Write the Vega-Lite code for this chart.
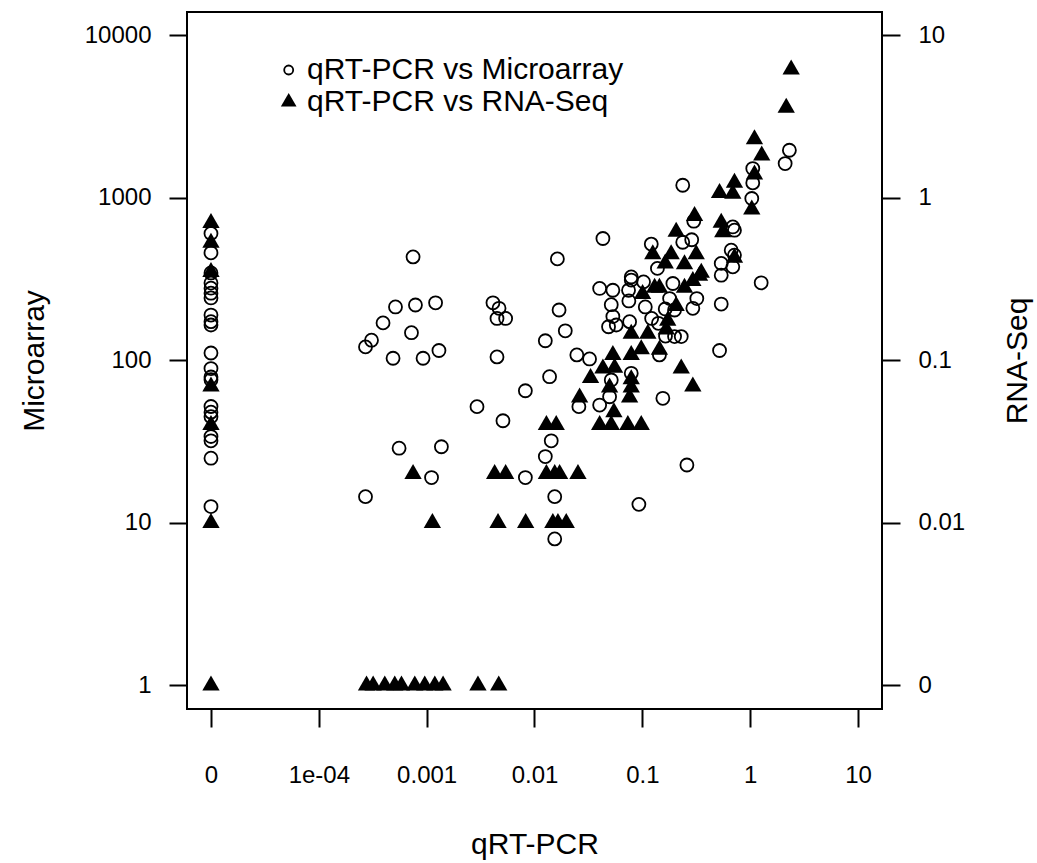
{
  "$schema": "https://vega.github.io/schema/vega-lite/v6.json",
  "width": 695,
  "height": 697,
  "autosize": {"type": "none"},
  "padding": {"left": 187, "top": 12, "right": 155, "bottom": 154},
  "background": "white",
  "config": {
    "font": "Liberation Sans",
    "view": {"stroke": "black", "strokeWidth": 2},
    "axis": {
      "grid": false, "domain": false, "tickColor": "black", "tickWidth": 2, "tickSize": 18,
      "labelColor": "black", "labelFont": "Liberation Sans", "labelFontSize": 24,
      "titleFont": "Liberation Sans", "titleFontSize": 30, "titleFontWeight": "normal", "titleColor": "black",
      "labelFlush": false, "labelOverlap": false, "titleBaseline": "alphabetic", "titleAlign": "center"
    },
    "legend": {
      "orient": "none", "legendX": 86.7, "legendY": 43, "padding": 0,
      "labelFont": "Liberation Sans", "labelFontSize": 30, "labelColor": "black", "labelOffset": 3.3, "labelLimit": 1000,
      "rowPadding": 2, "symbolOpacity": 1
    }
  },
  "datasets": {
    "micro": [
      {"qpcr": 0.00001, "microarray": 604}, {"qpcr": 0.00001, "microarray": 459}, {"qpcr": 0.00001, "microarray": 345},
      {"qpcr": 0.00001, "microarray": 299}, {"qpcr": 0.00001, "microarray": 278}, {"qpcr": 0.00001, "microarray": 259},
      {"qpcr": 0.00001, "microarray": 242}, {"qpcr": 0.00001, "microarray": 190}, {"qpcr": 0.00001, "microarray": 173},
      {"qpcr": 0.00001, "microarray": 165}, {"qpcr": 0.00001, "microarray": 111}, {"qpcr": 0.00001, "microarray": 89},
      {"qpcr": 0.00001, "microarray": 79}, {"qpcr": 0.00001, "microarray": 76}, {"qpcr": 0.00001, "microarray": 52},
      {"qpcr": 0.00001, "microarray": 48}, {"qpcr": 0.00001, "microarray": 45}, {"qpcr": 0.00001, "microarray": 34},
      {"qpcr": 0.00001, "microarray": 32}, {"qpcr": 0.00001, "microarray": 25}, {"qpcr": 0.00001, "microarray": 12.6},
      {"qpcr": 0.000748, "microarray": 433}, {"qpcr": 0.000514, "microarray": 213}, {"qpcr": 0.000787, "microarray": 219},
      {"qpcr": 0.00121, "microarray": 226}, {"qpcr": 0.000394, "microarray": 170}, {"qpcr": 0.000723, "microarray": 148},
      {"qpcr": 0.000308, "microarray": 133}, {"qpcr": 0.000271, "microarray": 121}, {"qpcr": 0.000488, "microarray": 103},
      {"qpcr": 0.000926, "microarray": 103}, {"qpcr": 0.0013, "microarray": 115}, {"qpcr": 0.000555, "microarray": 28.8},
      {"qpcr": 0.00137, "microarray": 29.4}, {"qpcr": 0.00111, "microarray": 19.0}, {"qpcr": 0.000271, "microarray": 14.5},
      {"qpcr": 0.00412, "microarray": 226}, {"qpcr": 0.00469, "microarray": 209}, {"qpcr": 0.00449, "microarray": 181},
      {"qpcr": 0.0054, "microarray": 181}, {"qpcr": 0.00449, "microarray": 105}, {"qpcr": 0.0163, "microarray": 421},
      {"qpcr": 0.0431, "microarray": 562}, {"qpcr": 0.0169, "microarray": 204}, {"qpcr": 0.0193, "microarray": 152},
      {"qpcr": 0.0126, "microarray": 132}, {"qpcr": 0.0402, "microarray": 277}, {"qpcr": 0.0533, "microarray": 270},
      {"qpcr": 0.0789, "microarray": 326}, {"qpcr": 0.0789, "microarray": 312}, {"qpcr": 0.1026, "microarray": 304},
      {"qpcr": 0.0745, "microarray": 270}, {"qpcr": 0.0515, "microarray": 220}, {"qpcr": 0.075, "microarray": 232},
      {"qpcr": 0.1065, "microarray": 213}, {"qpcr": 0.163, "microarray": 207}, {"qpcr": 0.0533, "microarray": 186},
      {"qpcr": 0.0486, "microarray": 161}, {"qpcr": 0.0573, "microarray": 165}, {"qpcr": 0.0762, "microarray": 173},
      {"qpcr": 0.122, "microarray": 181}, {"qpcr": 0.141, "microarray": 169}, {"qpcr": 0.164, "microarray": 141},
      {"qpcr": 0.144, "microarray": 108}, {"qpcr": 0.0247, "microarray": 108}, {"qpcr": 0.0324, "microarray": 102},
      {"qpcr": 0.0789, "microarray": 83.2}, {"qpcr": 0.0515, "microarray": 75.7}, {"qpcr": 0.0138, "microarray": 79.3},
      {"qpcr": 0.00823, "microarray": 65}, {"qpcr": 0.0497, "microarray": 59.7}, {"qpcr": 0.0258, "microarray": 51.9},
      {"qpcr": 0.0402, "microarray": 53.1}, {"qpcr": 0.155, "microarray": 58.4}, {"qpcr": 0.00293, "microarray": 51.9},
      {"qpcr": 0.0051, "microarray": 42.5}, {"qpcr": 0.0143, "microarray": 32}, {"qpcr": 0.0126, "microarray": 25.6},
      {"qpcr": 0.00823, "microarray": 19}, {"qpcr": 0.0154, "microarray": 14.5}, {"qpcr": 0.0929, "microarray": 13},
      {"qpcr": 0.0154, "microarray": 7.97}, {"qpcr": 0.121, "microarray": 519}, {"qpcr": 0.138, "microarray": 368},
      {"qpcr": 0.237, "microarray": 1195}, {"qpcr": 0.3, "microarray": 718}, {"qpcr": 0.237, "microarray": 533},
      {"qpcr": 0.287, "microarray": 552}, {"qpcr": 0.69, "microarray": 662}, {"qpcr": 0.715, "microarray": 632},
      {"qpcr": 1.057, "microarray": 1514}, {"qpcr": 1.057, "microarray": 1235}, {"qpcr": 1.035, "microarray": 990},
      {"qpcr": 2.31, "microarray": 1962}, {"qpcr": 2.11, "microarray": 1625}, {"qpcr": 0.667, "microarray": 476},
      {"qpcr": 0.715, "microarray": 444}, {"qpcr": 0.69, "microarray": 376}, {"qpcr": 0.539, "microarray": 395},
      {"qpcr": 0.539, "microarray": 334}, {"qpcr": 1.265, "microarray": 300}, {"qpcr": 0.192, "microarray": 297},
      {"qpcr": 0.179, "microarray": 240}, {"qpcr": 0.32, "microarray": 240}, {"qpcr": 0.539, "microarray": 222},
      {"qpcr": 0.199, "microarray": 204}, {"qpcr": 0.294, "microarray": 209}, {"qpcr": 0.199, "microarray": 140},
      {"qpcr": 0.2295, "microarray": 140}, {"qpcr": 0.52, "microarray": 115}, {"qpcr": 0.259, "microarray": 22.7}
    ],
    "rna": [
      {"qpcr": 0.00001, "rnaseq": 0.70}, {"qpcr": 0.00001, "rnaseq": 0.53}, {"qpcr": 0.00001, "rnaseq": 0.35},
      {"qpcr": 0.00001, "rnaseq": 0.069}, {"qpcr": 0.00001, "rnaseq": 0.04}, {"qpcr": 0.00001, "rnaseq": 0.01},
      {"qpcr": 0.00001, "rnaseq": 0.001},
      {"qpcr": 0.000277, "rnaseq": 0.001}, {"qpcr": 0.000319, "rnaseq": 0.001}, {"qpcr": 0.000409, "rnaseq": 0.001},
      {"qpcr": 0.000506, "rnaseq": 0.001}, {"qpcr": 0.000584, "rnaseq": 0.001}, {"qpcr": 0.000776, "rnaseq": 0.001},
      {"qpcr": 0.00096, "rnaseq": 0.001}, {"qpcr": 0.00119, "rnaseq": 0.001}, {"qpcr": 0.00142, "rnaseq": 0.001},
      {"qpcr": 0.00299, "rnaseq": 0.001}, {"qpcr": 0.00466, "rnaseq": 0.001},
      {"qpcr": 0.000748, "rnaseq": 0.02}, {"qpcr": 0.00427, "rnaseq": 0.02}, {"qpcr": 0.0054, "rnaseq": 0.02},
      {"qpcr": 0.0129, "rnaseq": 0.02}, {"qpcr": 0.0154, "rnaseq": 0.02}, {"qpcr": 0.0171, "rnaseq": 0.02},
      {"qpcr": 0.0253, "rnaseq": 0.02},
      {"qpcr": 0.00113, "rnaseq": 0.01}, {"qpcr": 0.00459, "rnaseq": 0.01}, {"qpcr": 0.00828, "rnaseq": 0.01},
      {"qpcr": 0.0148, "rnaseq": 0.01}, {"qpcr": 0.0165, "rnaseq": 0.01}, {"qpcr": 0.0197, "rnaseq": 0.01},
      {"qpcr": 0.0129, "rnaseq": 0.04}, {"qpcr": 0.0159, "rnaseq": 0.04}, {"qpcr": 0.0402, "rnaseq": 0.04},
      {"qpcr": 0.0515, "rnaseq": 0.04}, {"qpcr": 0.0734, "rnaseq": 0.04}, {"qpcr": 0.0977, "rnaseq": 0.04},
      {"qpcr": 0.0545, "rnaseq": 0.048}, {"qpcr": 0.0262, "rnaseq": 0.059}, {"qpcr": 0.0762, "rnaseq": 0.059},
      {"qpcr": 0.0497, "rnaseq": 0.068}, {"qpcr": 0.0789, "rnaseq": 0.068}, {"qpcr": 0.0789, "rnaseq": 0.0765},
      {"qpcr": 0.0331, "rnaseq": 0.078}, {"qpcr": 0.0431, "rnaseq": 0.089}, {"qpcr": 0.0553, "rnaseq": 0.09},
      {"qpcr": 0.0533, "rnaseq": 0.108}, {"qpcr": 0.0789, "rnaseq": 0.108}, {"qpcr": 0.0977, "rnaseq": 0.117},
      {"qpcr": 0.144, "rnaseq": 0.116}, {"qpcr": 0.0789, "rnaseq": 0.146}, {"qpcr": 0.1125, "rnaseq": 0.146},
      {"qpcr": 0.172, "rnaseq": 0.175}, {"qpcr": 0.1666, "rnaseq": 0.155}, {"qpcr": 0.206, "rnaseq": 0.216},
      {"qpcr": 0.1005, "rnaseq": 0.256}, {"qpcr": 0.13, "rnaseq": 0.28}, {"qpcr": 0.144, "rnaseq": 0.28},
      {"qpcr": 0.246, "rnaseq": 0.28}, {"qpcr": 0.294, "rnaseq": 0.308}, {"qpcr": 0.339, "rnaseq": 0.331},
      {"qpcr": 0.352, "rnaseq": 0.346}, {"qpcr": 0.163, "rnaseq": 0.394}, {"qpcr": 0.246, "rnaseq": 0.39},
      {"qpcr": 0.125, "rnaseq": 0.449}, {"qpcr": 0.185, "rnaseq": 0.449}, {"qpcr": 0.316, "rnaseq": 0.449},
      {"qpcr": 0.715, "rnaseq": 0.428}, {"qpcr": 0.206, "rnaseq": 0.619}, {"qpcr": 0.305, "rnaseq": 0.773},
      {"qpcr": 0.539, "rnaseq": 0.703}, {"qpcr": 0.557, "rnaseq": 0.615}, {"qpcr": 0.52, "rnaseq": 1.07},
      {"qpcr": 0.69, "rnaseq": 1.06}, {"qpcr": 0.715, "rnaseq": 1.24}, {"qpcr": 1.035, "rnaseq": 0.848},
      {"qpcr": 1.096, "rnaseq": 1.39}, {"qpcr": 1.096, "rnaseq": 2.29}, {"qpcr": 1.28, "rnaseq": 1.82},
      {"qpcr": 2.16, "rnaseq": 3.58}, {"qpcr": 2.4, "rnaseq": 6.16}, {"qpcr": 0.2295, "rnaseq": 0.089},
      {"qpcr": 0.294, "rnaseq": 0.069}
    ]
  },
  "encoding": {
    "x": {
      "field": "qpcr", "type": "quantitative",
      "scale": {"type": "log", "domain": [0.000005993, 16.69], "nice": false},
      "axis": {
        "values": [0.00001, 0.0001, 0.001, 0.01, 0.1, 1, 10],
        "labelExpr": "datum.value < 0.00005 ? '0' : datum.value < 0.0005 ? '1e-04' : datum.value < 0.005 ? '0.001' : datum.value < 0.05 ? '0.01' : datum.value < 0.5 ? '0.1' : datum.value < 5 ? '1' : '10'",
        "labelPadding": 55, "labelBaseline": "alphabetic", "labelAlign": "center",
        "title": "qRT-PCR", "titleX": 347.5, "titleY": 144
      }
    }
  },
  "layer": [
    {
      "data": {"name": "micro"},
      "mark": {"type": "point", "shape": "circle", "filled": false, "stroke": "black", "strokeWidth": 1.8, "size": 169, "opacity": 1},
      "encoding": {
        "y": {
          "field": "microarray", "type": "quantitative",
          "scale": {"type": "log", "domain": [0.716, 13906], "nice": false},
          "axis": {
            "orient": "left", "values": [1, 10, 100, 1000, 10000],
            "labelExpr": "datum.value >= 5000 ? '10000' : datum.value >= 500 ? '1000' : datum.value >= 50 ? '100' : datum.value >= 5 ? '10' : '1'",
            "labelPadding": 18, "labelBaseline": "middle",
            "title": "Microarray", "titleAngle": -90, "titleX": -144, "titleY": 348.5
          }
        }
      }
    },
    {
      "data": {"name": "rna"},
      "mark": {"type": "point", "shape": "M0,-1L0.866,0.5L-0.866,0.5Z", "filled": true, "fill": "black", "strokeWidth": 0, "size": 400, "opacity": 1},
      "encoding": {
        "y": {
          "field": "rnaseq", "type": "quantitative",
          "scale": {"type": "log", "domain": [0.000716, 13.906], "nice": false},
          "axis": {
            "orient": "right", "values": [0.001, 0.01, 0.1, 1, 10],
            "labelExpr": "datum.value >= 5 ? '10' : datum.value >= 0.5 ? '1' : datum.value >= 0.05 ? '0.1' : datum.value >= 0.005 ? '0.01' : '0'",
            "labelPadding": 18, "labelBaseline": "middle",
            "title": "RNA-Seq", "titleAngle": -90, "titleX": 144, "titleY": 348.5
          }
        }
      }
    },
    {
      "data": {"values": []},
      "mark": {"type": "point", "filled": true, "opacity": 1},
      "encoding": {
        "fill": {
          "field": "series", "type": "nominal",
          "scale": {"domain": ["qRT-PCR vs Microarray", "qRT-PCR vs RNA-Seq"], "range": ["transparent", "black"]},
          "legend": {"title": null, "encode": {"labels": {"dy": {"value": 5}}}}
        },
        "shape": {
          "field": "series", "type": "nominal",
          "scale": {"domain": ["qRT-PCR vs Microarray", "qRT-PCR vs RNA-Seq"], "range": ["circle", "M0,-1L0.866,0.5L-0.866,0.5Z"]},
          "legend": {"title": null, "encode": {"labels": {"dy": {"value": 5}}}}
        },
        "stroke": {
          "field": "series", "type": "nominal",
          "scale": {"domain": ["qRT-PCR vs Microarray", "qRT-PCR vs RNA-Seq"], "range": ["black", "black"]},
          "legend": {"title": null, "encode": {"labels": {"dy": {"value": 5}}}}
        },
        "strokeWidth": {
          "field": "series", "type": "nominal",
          "scale": {"domain": ["qRT-PCR vs Microarray", "qRT-PCR vs RNA-Seq"], "range": [1.8, 0]},
          "legend": {"title": null, "encode": {"labels": {"dy": {"value": 5}}}}
        },
        "size": {
          "field": "series", "type": "nominal",
          "scale": {"domain": ["qRT-PCR vs Microarray", "qRT-PCR vs RNA-Seq"], "range": [81, 328]},
          "legend": {"title": null, "encode": {"labels": {"dy": {"value": 5}}}}
        }
      }
    }
  ],
  "resolve": {"scale": {"y": "independent"}}
}
